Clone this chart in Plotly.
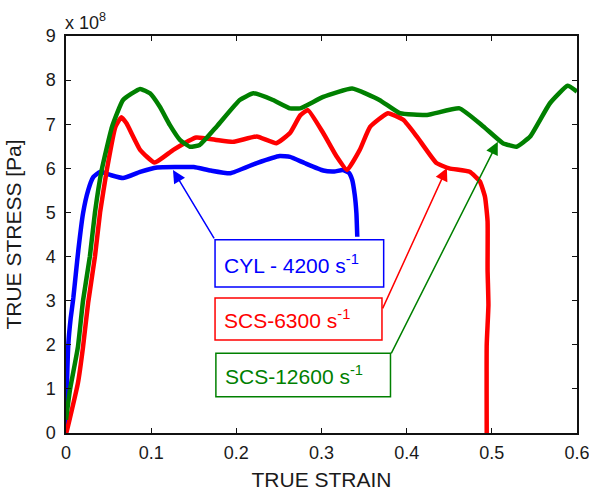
import plotly.graph_objects as go

# ---- data (stress in units of 1e8 Pa) ----
cyl_strain = [0, 0.001, 0.0027, 0.0055, 0.0086, 0.0115, 0.0145, 0.020, 0.026, 0.032, 0.040, 0.052,
              0.067, 0.087, 0.107, 0.130, 0.150, 0.170, 0.193, 0.224, 0.251, 0.263, 0.280,
              0.302, 0.315, 0.325, 0.332, 0.336, 0.339, 0.341, 0.342]
cyl_stress = [0, 1.0, 2.0, 2.6, 3.06, 3.6, 4.15, 4.98, 5.5, 5.8, 5.92, 5.85,
              5.78, 5.92, 6.02, 6.03, 6.03, 5.95, 5.89, 6.12, 6.28, 6.26, 6.12,
              5.95, 5.93, 5.96, 5.9, 5.74, 5.4, 4.98, 4.45]

scs63_strain = [0, 0.001, 0.014, 0.020, 0.026, 0.034, 0.040, 0.048, 0.058, 0.065, 0.071, 0.087,
                0.104, 0.126, 0.153, 0.175, 0.196, 0.224, 0.247, 0.263, 0.275, 0.284, 0.302,
                0.318, 0.330, 0.345, 0.357, 0.378, 0.396, 0.412, 0.435, 0.450, 0.474, 0.486,
                0.492, 0.495, 0.495, 0.496, 0.494, 0.494]
scs63_stress = [0, 0.05, 1.13, 1.95, 2.95, 4.0, 5.0, 5.97, 6.94, 7.16, 7.02, 6.42,
                6.13, 6.42, 6.7, 6.65, 6.6, 6.72, 6.57, 6.8, 7.2, 7.32, 6.8,
                6.26, 5.96, 6.42, 6.94, 7.25, 7.1, 6.72, 6.12, 6.0, 5.92, 5.7,
                5.35, 4.8, 3.7, 2.9, 2.0, 0]

scs126_strain = [0, 0.0047, 0.014, 0.020, 0.028, 0.034, 0.042, 0.054, 0.067, 0.087, 0.0986, 0.110,
                 0.122, 0.134, 0.1455, 0.157, 0.177, 0.204, 0.220, 0.243, 0.263, 0.275, 0.302,
                 0.336, 0.368, 0.392, 0.424, 0.462, 0.490, 0.513, 0.529, 0.545, 0.568, 0.589,
                 0.600]
scs126_stress = [0.3, 0.98, 1.95, 3.0, 4.0, 5.0, 5.97, 6.94, 7.55, 7.8, 7.70, 7.40,
                 6.98, 6.64, 6.49, 6.53, 6.95, 7.55, 7.7, 7.55, 7.36, 7.36, 7.62,
                 7.81, 7.55, 7.25, 7.21, 7.36, 6.95, 6.57, 6.49, 6.72, 7.47, 7.87,
                 7.74]

labels = ["CYL - 4200 s<sup>-1</sup>", "SCS-6300 s<sup>-1</sup>", "SCS-12600 s<sup>-1</sup>"]
colors = ["#0000FF", "#FF0000", "#008000"]

x_ticks = [0, 0.1, 0.2, 0.3, 0.4, 0.5, 0.6]
y_ticks = [0, 1, 2, 3, 4, 5, 6, 7, 8, 9]

FONT = "Arial, Liberation Sans, sans-serif"
TXT = "#1a1a1a"

fig = go.Figure()
series = [(cyl_strain, cyl_stress), (scs63_strain, scs63_stress), (scs126_strain, scs126_stress)]
for (xs, ys), c, name in zip(series, colors, labels):
    fig.add_trace(go.Scatter(x=xs, y=ys, mode="lines", name=name,
                             line=dict(color=c, width=4.5, shape="spline", smoothing=0.4),
                             showlegend=False))

# label boxes (data coords) and arrows
boxes = [
    dict(x0=0.175, x1=0.373, y0=3.31, y1=4.38, tx=0.1835, ty=3.84,
         head=(0.1256, 5.96), tail=(0.175, 4.38)),
    dict(x0=0.175, x1=0.371, y0=2.11, y1=3.06, tx=0.1835, ty=2.585,
         head=(0.4472, 6.01), tail=(0.371, 2.79)),
    dict(x0=0.176, x1=0.381, y0=0.82, y1=1.81, tx=0.1845, ty=1.315,
         head=(0.507, 6.6), tail=(0.381, 1.77)),
]
for b, c, lab in zip(boxes, colors, labels):
    fig.add_shape(type="rect", xref="x", yref="y", x0=b["x0"], x1=b["x1"], y0=b["y0"], y1=b["y1"],
                  line=dict(color=c, width=1.5), fillcolor="white", layer="above")
    fig.add_annotation(x=b["tx"], y=b["ty"], xref="x", yref="y", text=lab, showarrow=False,
                       xanchor="left", yanchor="middle", font=dict(family=FONT, size=21, color=c))
    fig.add_annotation(x=b["head"][0], y=b["head"][1], ax=b["tail"][0], ay=b["tail"][1],
                       xref="x", yref="y", axref="x", ayref="y", text="", showarrow=True,
                       arrowhead=2, arrowsize=1.7, arrowwidth=1.5, arrowcolor=c)

fig.add_annotation(x=0, y=1.0, xref="paper", yref="paper", text="x 10<sup>8</sup>",
                   showarrow=False, xanchor="left", yanchor="bottom", yshift=1, xshift=-3,
                   font=dict(family=FONT, size=18, color=TXT))

axis_common = dict(showline=True, linecolor="#111111", linewidth=1.5, mirror="ticks",
                   ticks="inside", ticklen=5, tickwidth=1.2, tickcolor="#111111",
                   showgrid=False, zeroline=False, automargin=False,
                   ticklabeloverflow="allow",
                   tickfont=dict(family=FONT, size=18, color=TXT))

fig.update_layout(
    width=589, height=492,
    margin=dict(l=66, r=12, t=36, b=59),
    paper_bgcolor="white", plot_bgcolor="white",
    xaxis=dict(range=[0, 0.6], tickvals=x_ticks, ticktext=[str(v) for v in x_ticks],
               ticklabelstandoff=3,
               title=dict(text="TRUE STRAIN", font=dict(family=FONT, size=21, color=TXT),
                          standoff=10),
               **axis_common),
    yaxis=dict(range=[0, 9], tickvals=y_ticks, ticktext=[str(v) for v in y_ticks],
               ticklabelstandoff=5,
               title=dict(text="TRUE STRESS [Pa]", font=dict(family=FONT, size=21, color=TXT),
                          standoff=18),
               **axis_common),
)

# remove the default page margin so the 589x492 figure fills the window exactly
fig.write_html("out.html", config={"displayModeBar": False},
               post_script="document.body.style.margin='0';")
